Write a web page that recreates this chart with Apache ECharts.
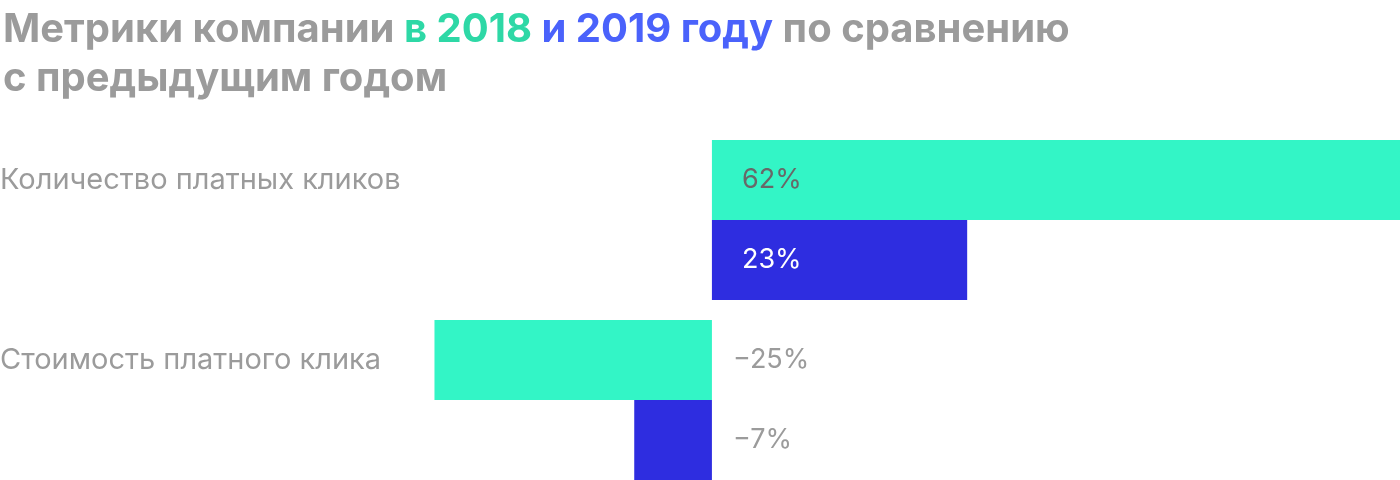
<!DOCTYPE html>
<html><head><meta charset="utf-8">
<script src="https://cdn.jsdelivr.net/npm/echarts@6/dist/echarts.min.js"></script>
<style>html,body{margin:0;padding:0;background:#fff}#c{width:1400px;height:480px}</style>
</head><body><div id="c"></div>
<script>
const categories = ['Количество платных кликов', 'Стоимость платного клика'];
const seriesNames = ['2018', '2019'];
const values2018 = [62, -25];
const values2019 = [23, -7];

const GREEN = '#33f5c6', BLUE = '#2e2de0';
const FONT = 'Inter';
function fmt(v){ return (v < 0 ? '\u2212' + Math.abs(v) : String(v)) + '%'; }
function items(vals, posColor){
  return vals.map(v => ({
    value: v,
    label: v >= 0
      ? { position: 'insideLeft', distance: 30, color: posColor }
      : { position: 'right', distance: 21, color: '#9b9b9b' }
  }));
}
const chart = echarts.init(document.getElementById('c'), null, {renderer:'canvas'});
chart.setOption({
  animation: false,
  title: {
    left: -2, top: 0,
    text: 'Метрики компании {g|в 2018} {b|и 2019 году} по сравнению\nс предыдущим годом',
    textStyle: {
      fontFamily: FONT, fontWeight: 'bold', fontSize: 40, lineHeight: 49, color: '#9b9b9b',
      rich: {
        g: { fontFamily: FONT, fontWeight: 'bold', fontSize: 40, lineHeight: 49, color: '#2ed8a6' },
        b: { fontFamily: FONT, fontWeight: 'bold', fontSize: 40, lineHeight: 49, color: '#4a62fb' }
      }
    }
  },
  grid: { left: 268, right: 0, top: 130, height: 360, outerBoundsMode: 'none', containLabel: false },
  xAxis: {
    type: 'value', min: -40, max: 62,
    show: false, splitLine: { show: false }
  },
  yAxis: {
    type: 'category', data: categories, inverse: true,
    axisLine: { show: false }, axisTick: { show: false },
    axisLabel: {
      align: 'left', margin: 268,
      formatter: v => '{t|' + v + '}\n{s| }',
      rich: {
        t: { fontFamily: FONT, fontSize: 29, lineHeight: 30, color: '#9b9b9b', align: 'left' },
        s: { fontSize: 10, lineHeight: 80 }
      }
    }
  },
  series: [
    { name: seriesNames[0], type: 'bar', data: items(values2018, '#686868'), barWidth: 80, barGap: '0%',
      itemStyle: { color: GREEN },
      label: { show: true, fontFamily: FONT, fontSize: 27, formatter: p => fmt(p.value) } },
    { name: seriesNames[1], type: 'bar', data: items(values2019, '#ffffff'), barWidth: 80, barGap: '0%',
      itemStyle: { color: BLUE },
      label: { show: true, fontFamily: FONT, fontSize: 27, formatter: p => fmt(p.value) } }
  ]
});
</script></body></html>
